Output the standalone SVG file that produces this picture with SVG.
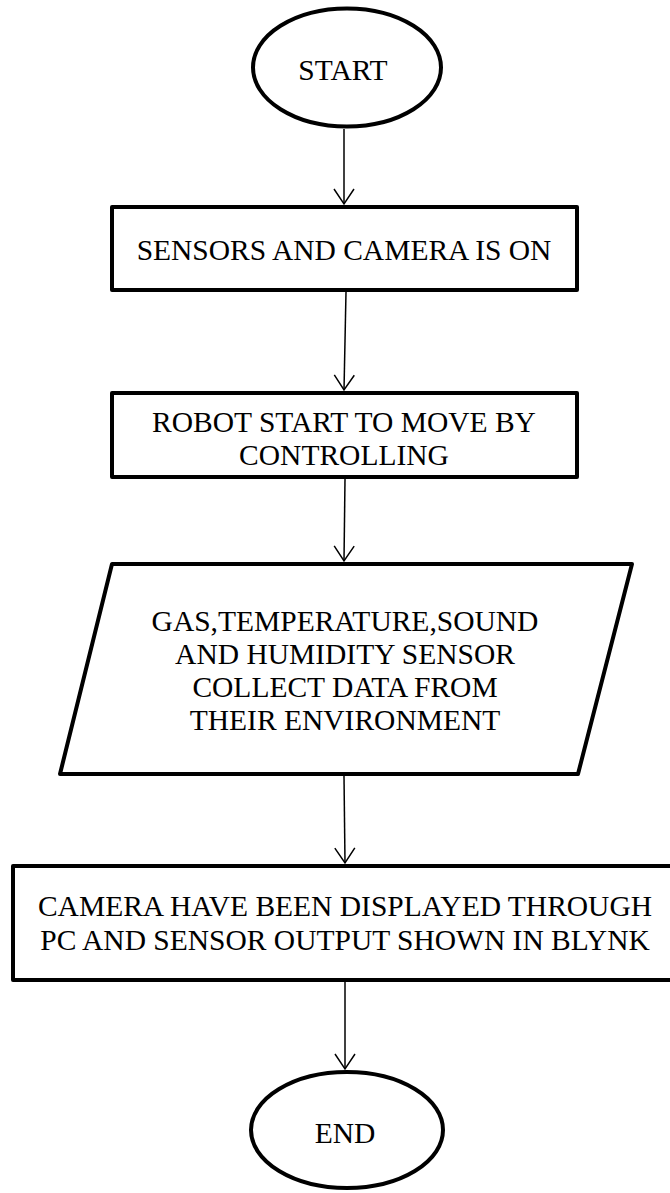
<svg xmlns="http://www.w3.org/2000/svg" width="670" height="1193" viewBox="0 0 670 1193">
  <defs>
    <style>
      .shape { fill: #ffffff; stroke: #000000; stroke-width: 4; stroke-linejoin: round; }
      .label { font-family: "Liberation Serif", "Times New Roman", serif; font-size: 29.5px; fill: #000000; text-anchor: middle; }
      .conn { fill: none; stroke: #000000; stroke-width: 1.5; marker-end: url(#arrow); }
    </style>
    <marker id="arrow" markerUnits="userSpaceOnUse" viewBox="-20 -20 40 40" markerWidth="40" markerHeight="40" refX="0" refY="0" orient="auto" overflow="visible">
      <path d="M-15,-10 L0,0 L-15,10" fill="none" stroke="#000000" stroke-width="1.5"/>
    </marker>
  </defs>
  <rect width="670" height="1193" fill="#ffffff"/>

  <g id="connectors">
    <line class="conn" x1="344" y1="129" x2="344" y2="204"/>
    <line class="conn" x1="346" y1="292" x2="344" y2="390"/>
    <line class="conn" x1="345" y1="479" x2="344" y2="561"/>
    <line class="conn" x1="344" y1="776" x2="345" y2="863"/>
    <line class="conn" x1="345" y1="982" x2="345" y2="1069"/>
  </g>

  <g id="start">
    <ellipse class="shape" cx="347" cy="67.5" rx="94" ry="59"/>
    <text class="label" x="343" y="80">START</text>
  </g>

  <g id="sensors-on">
    <rect class="shape" x="112" y="207" width="465" height="83"/>
    <text class="label" x="344" y="260">SENSORS AND CAMERA IS ON</text>
  </g>

  <g id="robot-move">
    <rect class="shape" x="112" y="393" width="465" height="84"/>
    <text class="label" x="344" y="432">ROBOT START TO MOVE BY</text>
    <text class="label" x="344" y="465">CONTROLLING</text>
  </g>

  <g id="collect-data">
    <polygon class="shape" points="112,564 632,564 578,774 60,774"/>
    <text class="label" x="345" y="631">GAS,TEMPERATURE,SOUND</text>
    <text class="label" x="345" y="664">AND HUMIDITY SENSOR</text>
    <text class="label" x="345" y="697">COLLECT DATA FROM</text>
    <text class="label" x="345" y="730">THEIR ENVIRONMENT</text>
  </g>

  <g id="display-output">
    <rect class="shape" x="13" y="866" width="662" height="114"/>
    <text class="label" x="345" y="916">CAMERA HAVE BEEN DISPLAYED THROUGH</text>
    <text class="label" x="345" y="950">PC AND SENSOR OUTPUT SHOWN IN BLYNK</text>
  </g>

  <g id="end">
    <ellipse class="shape" cx="347" cy="1130" rx="96" ry="58"/>
    <text class="label" x="345" y="1143">END</text>
  </g>
</svg>
